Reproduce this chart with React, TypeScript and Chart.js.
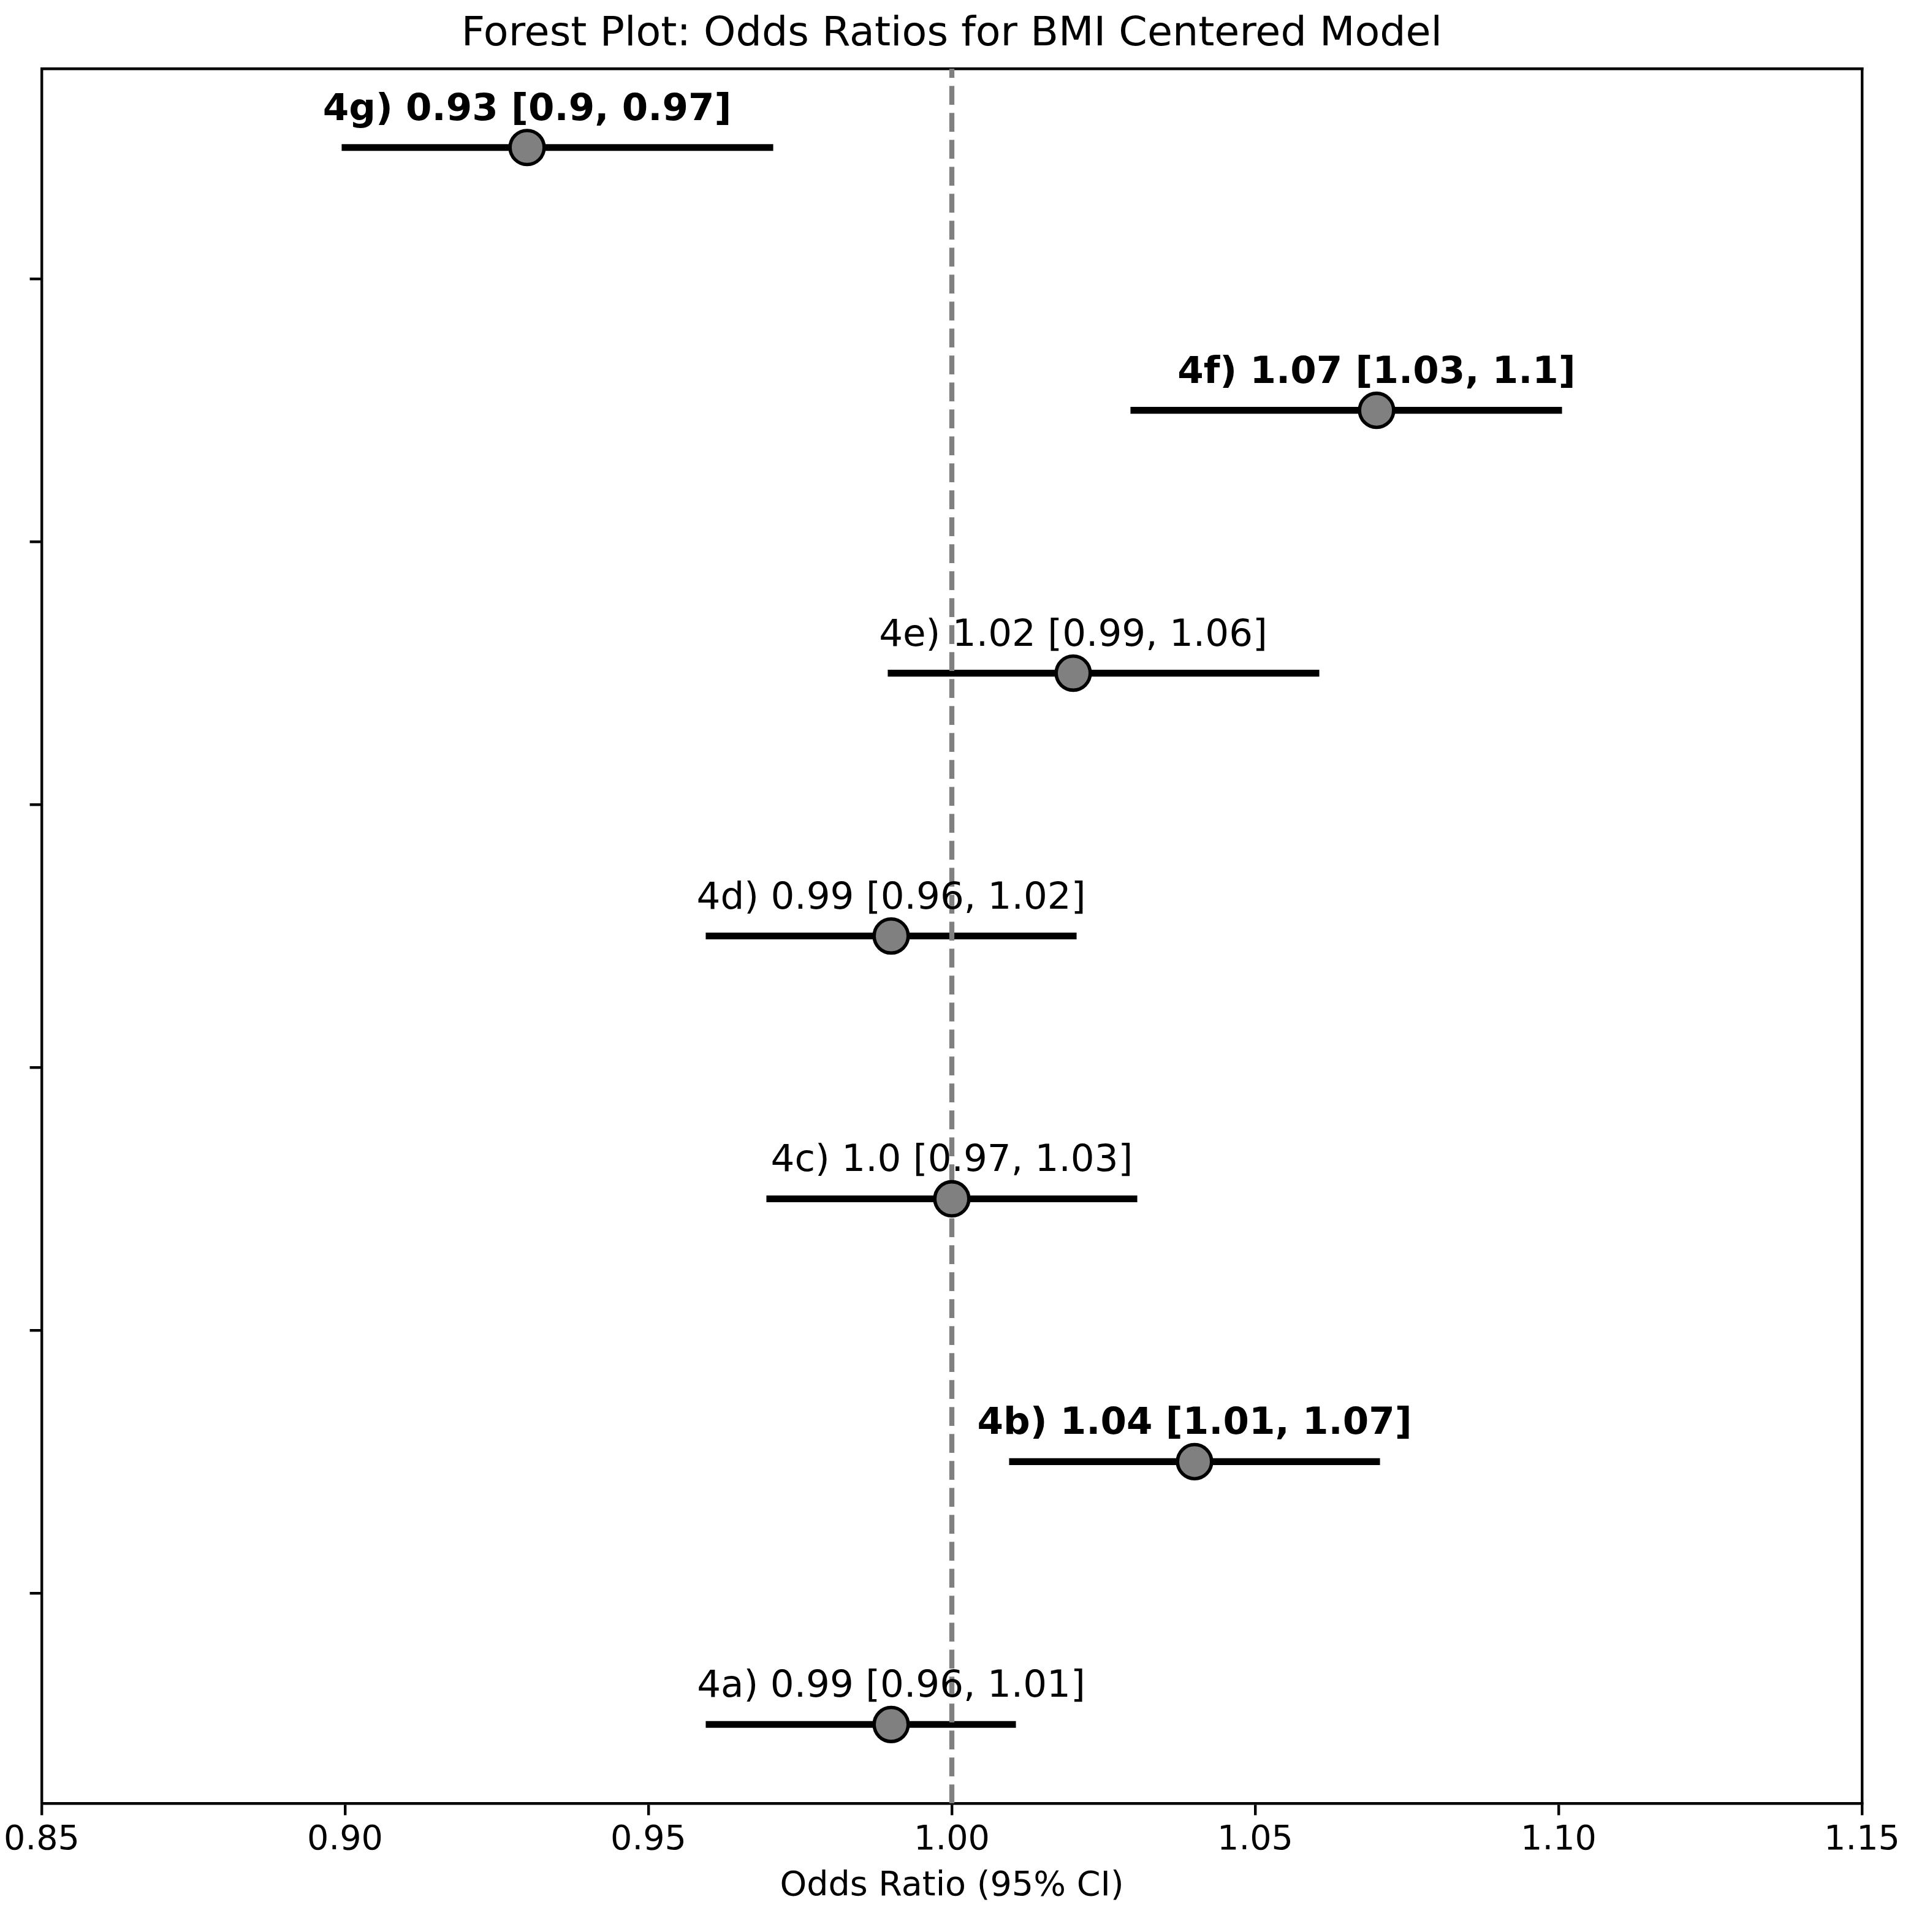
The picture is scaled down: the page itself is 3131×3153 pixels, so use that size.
import React, { useEffect, useRef } from "react";
import { Chart, registerables } from "chart.js";

Chart.register(...registerables);

// ---- Data ----
const categories = ["4a", "4b", "4c", "4d", "4e", "4f", "4g"];
const yPositions = [0, 1, 2, 3, 4, 5, 6];
const oddsRatios = [0.99, 1.04, 1.0, 0.99, 1.02, 1.07, 0.93];
const ciLower = [0.96, 1.01, 0.97, 0.96, 0.99, 1.03, 0.9];
const ciUpper = [1.01, 1.07, 1.03, 1.02, 1.06, 1.1, 0.97];
const significant = [false, true, false, false, false, true, true];
const annotationTexts = [
  "4a) 0.99 [0.96, 1.01]",
  "4b) 1.04 [1.01, 1.07]",
  "4c) 1.0 [0.97, 1.03]",
  "4d) 0.99 [0.96, 1.02]",
  "4e) 1.02 [0.99, 1.06]",
  "4f) 1.07 [1.03, 1.1]",
  "4g) 0.93 [0.9, 0.97]",
];
const xTickValues = [0.85, 0.9, 0.95, 1.0, 1.05, 1.1, 1.15];
const xTickLabels = ["0.85", "0.90", "0.95", "1.00", "1.05", "1.10", "1.15"];
const yTickValues = [0.5, 1.5, 2.5, 3.5, 4.5, 5.5];
const referenceValue = 1.0;
const xRange = [0.85, 1.15];
const yRange = [-0.3, 6.3];

const chartTitle = "Forest Plot: Odds Ratios for BMI Centered Model";
const xAxisTitle = "Odds Ratio (95% CI)";

// ---- Styles ----
const FONT = "'DejaVu Sans', sans-serif";
const W = 3131;
const H = 3153;
const SPINE = 4.4;
const TICK_LEN = 19.4;

const annotationPlugin = {
  id: "pointAnnotations",
  afterDatasetsDraw(chart: any) {
    const meta = chart.getDatasetMeta(0);
    const ctx = chart.ctx;
    ctx.save();
    ctx.fillStyle = "#000";
    ctx.textAlign = "center";
    ctx.textBaseline = "alphabetic";
    meta.data.forEach((el: any, i: number) => {
      ctx.font = `${significant[i] ? "bold " : ""}61.1px ${FONT}`;
      ctx.fillText(annotationTexts[i], el.x, el.y - 45);
    });
    ctx.restore();
  },
};

export default function App() {
  const canvasRef = useRef<HTMLCanvasElement | null>(null);

  useEffect(() => {
    if (!canvasRef.current) return;
    Chart.defaults.font.family = FONT;
    Chart.defaults.color = "#000";

    const errorDatasets = categories.map((c, i) => ({
      type: "line" as const,
      label: `${c} CI`,
      data: [
        { x: ciLower[i], y: yPositions[i] },
        { x: ciUpper[i], y: yPositions[i] },
      ],
      borderColor: "#000",
      borderWidth: 11.1,
      borderCapStyle: "square" as const,
      pointRadius: 0,
      fill: false,
      order: 3,
    }));

    const chart = new Chart(canvasRef.current, {
      type: "scatter",
      data: {
        datasets: [
          {
            type: "scatter",
            label: "Odds ratio",
            data: oddsRatios.map((v, i) => ({ x: v, y: yPositions[i] })),
            pointRadius: 27.8,
            pointBackgroundColor: "#808080",
            pointBorderColor: "#000",
            pointBorderWidth: 5.56,
            showLine: false,
            order: 0,
          } as any,
          {
            type: "line",
            label: "Reference",
            data: [
              { x: referenceValue, y: yRange[0] },
              { x: referenceValue, y: yRange[1] },
            ],
            borderColor: "#808080",
            borderWidth: 8.3,
            borderDash: [30.7, 13.3],
            pointRadius: 0,
            fill: false,
            order: 1,
          } as any,
          ...(errorDatasets as any[]),
        ],
      },
      options: {
        animation: false,
        responsive: false,
        devicePixelRatio: 1,
        events: [],
        layout: { padding: { left: 68, right: 93, top: 0, bottom: 0 } },
        plugins: {
          legend: { display: false },
          tooltip: { enabled: false },
          title: {
            display: true,
            text: chartTitle,
            color: "#000",
            font: { family: FONT, size: 66.7, weight: "normal" },
            padding: { top: 17, bottom: 15 },
          },
        },
        scales: {
          x: {
            type: "linear",
            position: "bottom",
            min: xRange[0],
            max: xRange[1],
            afterBuildTicks: (s: any) => {
              s.ticks = xTickValues.map((v) => ({ value: v }));
            },
            afterFit: (s: any) => {
              s.height = 210;
              s.paddingLeft = 0;
              s.paddingRight = 0;
            },
            ticks: {
              callback: (_v: any, i: number) => xTickLabels[i],
              color: "#000",
              font: { family: FONT, size: 55.6 },
              padding: 8,
              maxRotation: 0,
              autoSkip: false,
            },
            grid: {
              drawOnChartArea: false,
              drawTicks: true,
              tickLength: TICK_LEN,
              tickWidth: SPINE,
              tickColor: "#000",
              lineWidth: SPINE,
              color: "#000",
            },
            border: { display: true, color: "#000", width: SPINE },
            title: {
              display: true,
              text: xAxisTitle,
              color: "#000",
              font: { family: FONT, size: 55.6 },
              padding: { top: 0, bottom: 41 },
            },
          },
          y: {
            type: "linear",
            position: "left",
            min: yRange[0],
            max: yRange[1],
            afterBuildTicks: (s: any) => {
              s.ticks = yTickValues.map((v) => ({ value: v }));
            },
            afterFit: (s: any) => {
              s.width = 0;
              s.paddingTop = 0;
              s.paddingBottom = 0;
            },
            ticks: { display: false },
            grid: {
              drawOnChartArea: false,
              drawTicks: true,
              tickLength: TICK_LEN,
              tickWidth: SPINE,
              tickColor: "#000",
              lineWidth: SPINE,
              color: "#000",
            },
            border: { display: true, color: "#000", width: SPINE },
          },
          xTop: {
            type: "linear",
            position: "top",
            min: xRange[0],
            max: xRange[1],
            afterFit: (s: any) => {
              s.height = 0;
              s.paddingLeft = 0;
              s.paddingRight = 0;
            },
            ticks: { display: false },
            grid: { drawOnChartArea: false, drawTicks: false, lineWidth: SPINE, color: "#000" },
            border: { display: true, color: "#000", width: SPINE },
          },
          yRight: {
            type: "linear",
            position: "right",
            min: yRange[0],
            max: yRange[1],
            afterFit: (s: any) => {
              s.width = 0;
              s.paddingTop = 0;
              s.paddingBottom = 0;
            },
            ticks: { display: false },
            grid: { drawOnChartArea: false, drawTicks: false, lineWidth: SPINE, color: "#000" },
            border: { display: true, color: "#000", width: SPINE },
          },
        },
      } as any,
      plugins: [annotationPlugin],
    });

    return () => {
      chart.destroy();
    };
  }, []);

  return (
    <canvas
      ref={canvasRef}
      width={W}
      height={H}
      style={{ position: "absolute", left: 0, top: 0, width: W, height: H, display: "block", background: "#fff" }}
    />
  );
}
